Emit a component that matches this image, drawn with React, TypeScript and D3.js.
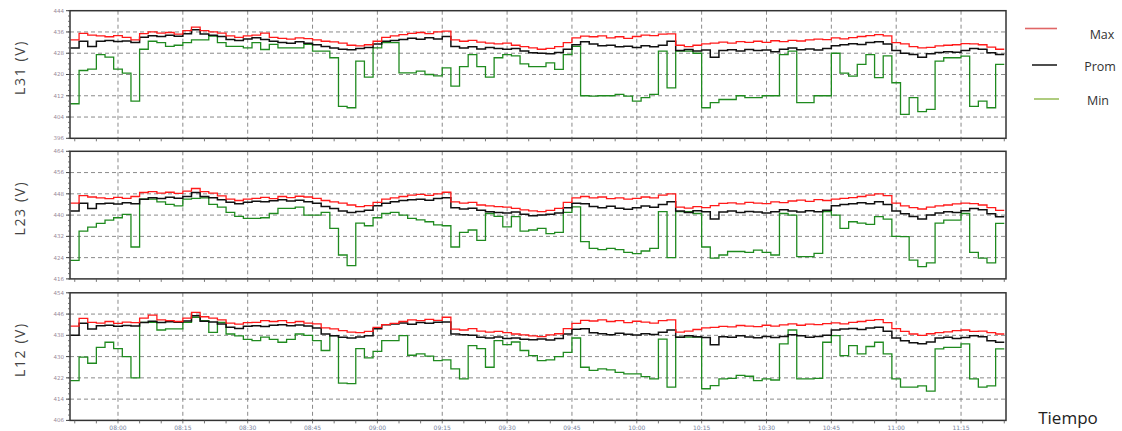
import React from "react";
import * as d3 from "d3";

// Sampling: one value every 2 minutes, first sample at 07:49
const START = new Date(2021, 0, 1, 7, 49);
const STEP_MINUTES = 2;

const l31Max = [433,435.5,434.8,434.5,434.2,434.6,434,433,435.4,436,435.6,435.8,435.2,436.5,437.8,436.5,436,435.6,434.5,434,434.5,434.8,435.6,434,433.6,433.3,433.8,433.5,433,432.5,432.3,431.8,431,430.8,431.2,432.5,434,434.5,435,435.5,435.8,435.4,436,436.3,433,432.5,432.8,432.2,431.8,431.5,431.8,431,430.5,430,429.5,429.8,430.5,432,433.8,434.4,434.2,434.5,433.8,434.2,433.6,434.3,434.8,434.6,435.2,435.3,431,430.5,431,431.5,431.8,432.2,431.8,432.4,432.1,432.5,432.1,432.7,432.4,432.8,432.6,433,433.3,433.1,433.8,433.4,433.9,434.3,434.6,435,434.5,432,431.5,430.5,430,430.2,430.8,431,431.2,431.6,431.5,431.2,430.3,429.5];
const l31Prom = [430,432.5,430.5,432.5,432.8,432.4,432.6,432,434,434.6,434.3,434.8,434.4,435.3,436.8,435.2,434.8,434.3,433.2,432.8,433.4,433.8,433.2,432.5,432,431.8,432.3,431.8,431.2,430.5,430,429.5,429.3,429.8,430.2,431.5,432.5,432.8,433.2,433.6,433.3,433.8,433.4,434.3,430.5,430,430.4,429.6,430.2,429.8,429.5,429.8,428.8,428.2,428,427.8,428.3,429.5,431.2,432.3,431.5,430.8,431,430.4,430.6,430.2,430.8,430.4,431,432.5,429,429.4,428.8,429.2,426.5,429,429.3,428.8,429.4,429,429.2,428.6,429.5,430,429.3,429.6,429.2,429.8,430.8,431.2,431.6,431.3,432,432.3,431.5,429,428,427.5,426.5,427.8,428.3,428.6,428.4,429,429.8,429.5,428.2,427.5];
const l31Min = [409,421.5,422,427.5,426.5,422,420.5,410,429.5,432.5,432,430.6,431,432,433,433,434.4,432,430.6,430.6,430,432,429.4,431.3,430,430,430,431.3,428.8,428.8,426.3,408,407.5,425,419,430,432,432,420.6,420.6,421.3,420,419.5,422.5,415.6,423,427.5,423,419,426.3,427.5,427,424,423,423,424.4,421.9,427.5,430.6,412,411.9,412,412,412.5,411.9,410,411.3,412.5,428.8,415,428.8,428.8,428,407.5,409.4,410.6,410.6,412,411.3,411.3,412,412,427.5,428.8,409.4,409.4,412,412,428,420.5,419.4,423.8,427.5,418.8,427,416.9,405,411.3,406,406.9,425,426.3,426.3,426.9,408,410,407.5,423.8];

const l23Max = [444.5,447.3,446.8,446.5,446.2,446.7,446.3,447,448.5,448.8,448.3,448.6,448.2,449,450,448.8,448.3,447.2,446,445.5,446,446.3,446.7,446.2,447,446.6,447.1,446.8,446.3,445.5,445,444.5,443.8,443.2,443.6,444.8,446,446.5,447,447.5,447.8,447.4,448,448.6,445,444.5,444.8,443.8,443.5,443.2,443,442.5,442,441.6,441.3,441.8,442.5,444.8,446.5,447,446.5,446.8,446.2,446.5,446,446.3,446.8,446.5,447.5,448,443,442.6,443.2,442.8,443.6,444.4,444.6,444.2,444.8,444.5,444.3,445,444.7,445.3,445.6,445.2,445.8,445.5,446,446.3,446.6,447,447.5,448,447.3,444.5,443.5,442.8,442.3,443,443.5,443.8,444.2,444.5,444.3,443.8,442.8,441.8];
const l23Prom = [441.5,444.5,442.5,444.3,444.5,444.2,444.6,444.3,446,446.5,446.2,446.7,446.3,447,448.5,447,446.5,445.8,444.8,444.3,444.8,445.2,445,445.4,445.8,445.3,445.6,445,444.5,443.2,442.5,441.5,441,441.4,441.8,443.5,444.5,445,445.5,445.8,446,445.6,446.2,446.5,442.8,442.3,442.6,441.8,441.3,441,440.8,441.2,440.3,439.8,440,440.3,440.8,442.8,444.5,444.3,443.2,442.8,443.3,442.6,442.2,442.8,443.4,443,444,445,441.5,441,441.6,441.3,438.5,441.2,441.5,441,441.4,441.2,440.8,441.3,442,441.5,441.2,441.6,441.3,441.8,443.5,444,444.3,444.6,444.3,445,444,441.5,440.5,439.5,438.5,440,440.8,441.3,441,441.6,442.5,442,440.5,439.4];
const l23Min = [423,434,435.5,436.9,438.1,439,440.3,428,446,446,445,444,443.5,446,446.3,446.5,444,443,441,439.5,438.8,438.8,439,440.6,442.5,442.5,443,440,440,441,435,425,421,437,436,439,440.6,441,440,438.8,438.2,437.5,436.3,436,428,433.5,434.4,430.5,440.6,439.5,435.6,439.4,434,434.4,435,433,433.5,441,443.1,430,427.5,427,427.5,427,426,425.5,426.5,427.5,441.3,424,441.3,441.3,440.6,428,423.8,425,426.3,426.3,426,426.8,426,425,440.6,440,424.4,424.4,425.6,441.3,440,435,437.5,437,436.5,439.4,438.5,432,431.9,423.1,420.6,422,437,438.1,438.1,440.6,426,423.8,422,436.9];

const l12Max = [441.5,444.4,442.9,442.6,443.2,442.5,443,442.8,444.5,445.6,443.8,443.5,443.2,444.5,446.6,445,444.5,443.8,442.6,442.2,442.8,442.9,443.5,443.2,443.5,442.8,443.2,442.6,442.3,440.8,440.4,439.8,439.2,439,439.5,441,442,442.5,443.2,443.8,443.5,444,443.6,444.8,440.3,440,440.5,439.6,439.2,439.5,439,438.5,438.2,437.8,437.5,438.2,438.6,440.5,442.5,443.6,443.4,443.8,443.2,443.5,442.8,443.3,443,442.6,443.5,443.8,439.2,439.6,440.2,440.8,441,441.4,441.2,441.7,441.5,441.3,441.8,441.5,441.9,442.3,441.8,442.2,442,442.4,442.7,442.3,442.9,443.2,443.6,443.9,442.8,440.5,439.5,438.5,438,438.6,439,439.3,439.8,440,439.5,439.6,439,438.5];
const l12Prom = [438,442.5,440.4,441.6,441.8,441.4,441.7,441.5,442.8,443.3,442.8,443.1,442.9,443.4,445.4,443.3,443,442.3,441,440.6,441.4,441.6,441.3,441.8,442,441.6,441.9,441.5,440.8,438.5,437.8,437.3,437,437.4,437.8,440.5,442,442.3,442.6,442.2,442.8,442.5,442.9,443,438.5,438.2,438,437.3,437,437.4,436.8,437,436.5,436.3,436.6,436.2,436.8,438.5,440.3,440.5,439,438.6,438.2,438.8,438.4,438.1,438.6,438.3,439.2,440,437.3,437.8,437.5,437.2,434.5,437.5,437.3,437.8,437.4,437.1,437.6,437.2,437.6,438.2,437.8,437.3,437.6,438,440,440.4,440.6,440.2,440.8,441,439.5,437,436,435.2,434.8,435.5,437,437.3,436.8,437.2,437.8,437.5,436,435.4];
const l12Min = [421,429.8,427.5,433.5,435.4,433,430,422,442.9,442.9,440,440.4,440.4,442.9,444.8,443.5,439.1,442.9,438.5,437.8,436.5,436,437.3,436.5,435.4,436.5,438.5,438,436,432.3,437.9,420,419.8,433,429.5,432,436,436,437.9,430.5,431,430.2,428.5,428.8,425.4,421.6,434.1,433,426,436,434.5,435.5,432.3,430.4,428.5,428.8,430,431.6,437,426,424.8,425.4,425,424.1,423.5,423.5,422.5,421.6,436.6,418.5,437.3,437.3,437.3,417.9,419.1,421.6,421.8,422.9,422.6,421,421.6,421.2,434.8,440,421.6,421.6,421.8,435.4,437.9,430.4,434.1,431,433.8,435.4,431,421.6,418.5,418.5,419,417,432.9,433.5,433.5,434.8,421.6,418.5,419,432.9];

// Axis tick values per panel
const l31Ticks = [396, 404, 412, 420, 428, 436, 444];
const l23Ticks = [416, 424, 432, 440, 448, 456, 464];
const l12Ticks = [406, 414, 422, 430, 438, 446, 454];

const panelNames = ["L31 (V)", "L23 (V)", "L12 (V)"];
const seriesNames = ["Max", "Prom", "Min"];
const seriesColors = ["#ff1a1a", "#111111", "#1f8a1f"];
const legendColors = ["#e06666", "#222222", "#9cc060"];

const W = 1122;
const H = 431;
const plotLeft = 70;
const plotRight = 1006;
const panelTops = [10.7, 151.3, 292.8];
const panelHeight = 127.6;

const panels = [
  { name: panelNames[0], ticks: l31Ticks, series: [l31Max, l31Prom, l31Min] },
  { name: panelNames[1], ticks: l23Ticks, series: [l23Max, l23Prom, l23Min] },
  { name: panelNames[2], ticks: l12Ticks, series: [l12Max, l12Prom, l12Min] },
];

const minutes = (m: number) => new Date(START.getTime() + m * 60000);

const x = d3
  .scaleTime()
  .domain([new Date(2021, 0, 1, 7, 48, 54), new Date(2021, 0, 1, 11, 25, 24)])
  .range([plotLeft, plotRight]);

const majorTimes = d3.timeMinute.every(15)!.range(x.domain()[0], x.domain()[1]);
const minorTimes = d3.timeMinute.every(5)!.range(x.domain()[0], x.domain()[1]);
const fmt = d3.timeFormat("%H:%M");

function toPoints(values: number[]): [Date, number][] {
  const pts: [Date, number][] = values.map((v, i) => [minutes(i * STEP_MINUTES), v]);
  pts.push([minutes(values.length * STEP_MINUTES), values[values.length - 1]]);
  return pts;
}

function Panel({ idx }: { idx: number }) {
  const p = panels[idx];
  const top = panelTops[idx];
  const bottom = top + panelHeight;
  const y = d3
    .scaleLinear()
    .domain([p.ticks[0], p.ticks[p.ticks.length - 1]])
    .range([bottom, top]);
  const line = d3
    .line<[Date, number]>()
    .x((d) => x(d[0]))
    .y((d) => y(d[1]))
    .curve(d3.curveStepAfter);
  const minorY = d3.range(p.ticks[0], p.ticks[p.ticks.length - 1] + 0.01, 2);
  const clipId = `clip-${idx}`;
  const isLast = idx === panels.length - 1;
  return (
    <g>
      <defs>
        <clipPath id={clipId}>
          <rect x={plotLeft} y={top} width={plotRight - plotLeft} height={panelHeight} />
        </clipPath>
      </defs>
      <rect x={plotLeft} y={top} width={plotRight - plotLeft} height={panelHeight} fill="#fff" />
      {/* grid */}
      {majorTimes.map((t, i) => (
        <line key={`vg${i}`} x1={x(t)} x2={x(t)} y1={top} y2={bottom} stroke="#8a8a8a" strokeDasharray="4,3" strokeWidth={1} />
      ))}
      {p.ticks.slice(1, -1).map((v, i) => (
        <line key={`hg${i}`} x1={plotLeft} x2={plotRight} y1={y(v)} y2={y(v)} stroke="#8a8a8a" strokeDasharray="4,3" strokeWidth={1} />
      ))}
      {/* series, drawn Min first so Max sits on top */}
      <g clipPath={`url(#${clipId})`}>
        {[2, 1, 0].map((s) => (
          <path key={s} d={line(toPoints(p.series[s])) || ""} fill="none" stroke={seriesColors[s]} strokeWidth={s === 1 ? 1.5 : 1.3} />
        ))}
      </g>
      {/* frame */}
      <rect x={plotLeft} y={top} width={plotRight - plotLeft} height={panelHeight} fill="none" stroke="#333" strokeWidth={1.5} />
      {/* y ticks */}
      {minorY.map((v, i) => (
        <line key={`my${i}`} x1={plotLeft - 2} x2={plotLeft} y1={y(v)} y2={y(v)} stroke="#555" strokeWidth={0.8} />
      ))}
      {p.ticks.map((v, i) => (
        <g key={`yt${i}`}>
          <line x1={plotLeft - 4} x2={plotLeft} y1={y(v)} y2={y(v)} stroke="#444" strokeWidth={1} />
          <text x={plotLeft - 6} y={y(v)} dy="0.35em" textAnchor="end" fontSize={5.5} fill="#9a8a9a" fontFamily="DejaVu Sans, sans-serif">
            {v}
          </text>
        </g>
      ))}
      {/* x ticks */}
      {minorTimes.map((t, i) => (
        <line key={`xt${i}`} x1={x(t)} x2={x(t)} y1={bottom} y2={bottom + 3} stroke="#555" strokeWidth={0.8} />
      ))}
      {isLast &&
        majorTimes.map((t, i) => (
          <text key={`xl${i}`} x={x(t)} y={bottom + 9.5} textAnchor="middle" fontSize={6} fill="#7a84a0" fontFamily="DejaVu Sans, sans-serif">
            {fmt(t)}
          </text>
        ))}
      {/* panel label */}
      <text
        transform={`translate(25,${top + panelHeight / 2 - 7}) rotate(-90)`}
        textAnchor="middle"
        fontSize={14}
        letterSpacing={1.6}
        fill="#444"
        fontFamily="Open Sans, sans-serif"
      >
        {p.name}
      </text>
    </g>
  );
}

export default function App() {
  const legendY = [28.5, 65, 99];
  const legendLineX = [
    [1025, 1057],
    [1032, 1057],
    [1034, 1059],
  ];
  const legendTextX = [1102, 1100, 1098];
  return (
    <div style={{ position: "fixed", left: 0, top: 0 }}>
      <svg width={W} height={H} style={{ display: "block", background: "#fff" }}>
        {panels.map((_, i) => (
          <Panel key={i} idx={i} />
        ))}
        {seriesNames.map((n, i) => (
          <g key={n}>
            <line x1={legendLineX[i][0]} x2={legendLineX[i][1]} y1={legendY[i]} y2={legendY[i]} stroke={legendColors[i]} strokeWidth={1.6} />
            <text x={legendTextX[i]} y={legendY[i] + (i === 0 ? 6 : 2)} dy="0.35em" textAnchor="middle" fontSize={12.5} fill="#333" fontFamily="Open Sans, sans-serif">
              {n}
            </text>
          </g>
        ))}
        <text x={1068} y={418} dy="0.35em" textAnchor="middle" fontSize={17} fill="#222" fontFamily="Open Sans, sans-serif">
          Tiempo
        </text>
      </svg>
    </div>
  );
}
